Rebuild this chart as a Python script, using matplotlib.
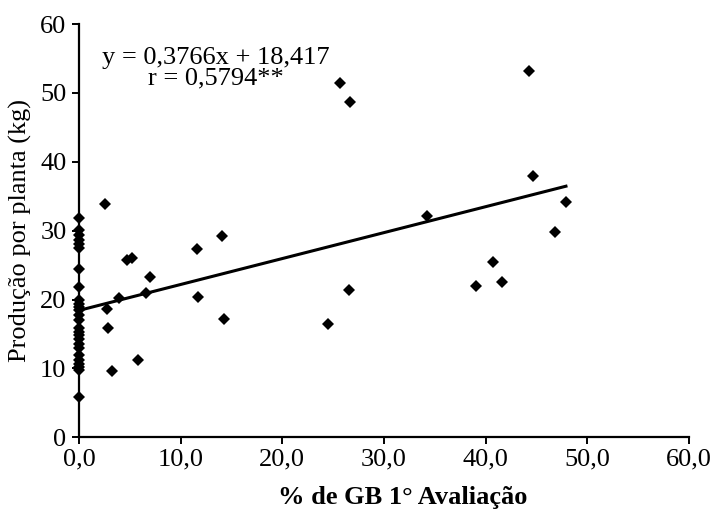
import numpy as np
import matplotlib
matplotlib.use("Agg")
import matplotlib.pyplot as plt

plt.rcParams['font.family'] = ['Liberation Serif', 'DejaVu Serif']

# % de GB na 1ª avaliação (x) e produção por planta em kg (y)
gb_zero = [0.0] * 26
prod_zero = [31.9, 30.1, 29.4, 28.7, 28.1, 27.5, 24.5, 21.8,
             19.9, 19.4, 18.9, 18.5, 17.7, 17.0, 15.8, 15.3, 14.8,
             14.3, 13.6, 12.9, 11.9, 11.2, 10.7, 10.2, 9.8, 5.9]

gb_pos = [2.6, 2.8, 2.9, 3.2, 3.9, 4.7, 5.2, 5.8, 6.6, 7.0, 11.6, 11.7,
          14.1, 14.3, 24.5, 25.7, 26.6, 26.7, 34.2, 39.1, 40.7, 41.6,
          44.3, 44.7, 46.8, 47.9]
prod_pos = [33.9, 18.6, 15.9, 9.6, 20.2, 25.7, 26.0, 11.2, 20.9, 23.3,
            27.3, 20.4, 29.2, 17.1, 16.4, 51.4, 21.4, 48.7, 32.2, 22.0,
            25.4, 22.5, 53.2, 38.0, 29.8, 34.1]

slope = 0.3766
intercept = 18.417
r_value = 0.5794

x_ticks = [0, 10, 20, 30, 40, 50, 60]
y_ticks = [0, 10, 20, 30, 40, 50, 60]

x = np.array(gb_zero + gb_pos)
y = np.array(prod_zero + prod_pos)

fig = plt.figure(figsize=(7.2, 5.12), dpi=100)
ax = fig.add_axes([0.1097, 0.146, 0.8472, 0.807])

ax.plot(x, y, linestyle='none', marker='D', markersize=6.2,
        color='black', markeredgewidth=0, zorder=4, clip_on=False)

xl = np.array([0.0, x.max()])
ax.plot(xl, slope * xl + intercept, color='black', linewidth=2.2, zorder=3)

ax.set_xlim(0, 60)
ax.set_ylim(0, 60)
ax.set_xticks(x_ticks)
ax.set_yticks(y_ticks)
ax.set_xticklabels([f"{v:.1f}".replace('.', ',') for v in x_ticks])
ax.set_yticklabels([str(v) for v in y_ticks])

for side in ('top', 'right'):
    ax.spines[side].set_visible(False)
for side in ('left', 'bottom'):
    ax.spines[side].set_linewidth(1.6)
    ax.spines[side].set_zorder(2)

ax.tick_params(axis='both', direction='out', length=5, width=1.4,
               labelsize=19, colors='black', pad=3)
ax.tick_params(axis='y', pad=4)

ax.set_ylabel('Produção por planta (kg)', fontsize=19, labelpad=6)
ax.set_xlabel('% de GB 1° Avaliação', fontsize=19, fontweight='bold')
ax.xaxis.set_label_coords(0.53, -0.118)

eq = (f"y = {slope:.4f}x + {intercept:.3f}".replace('.', ',') + "\n"
      + f"r = {r_value:.4f}**".replace('.', ','))
ax.text(0.225, 0.893, eq, transform=ax.transAxes, ha='center', va='center',
        fontsize=19, linespacing=0.92, multialignment='center')

fig.savefig('out.png', dpi=100)
